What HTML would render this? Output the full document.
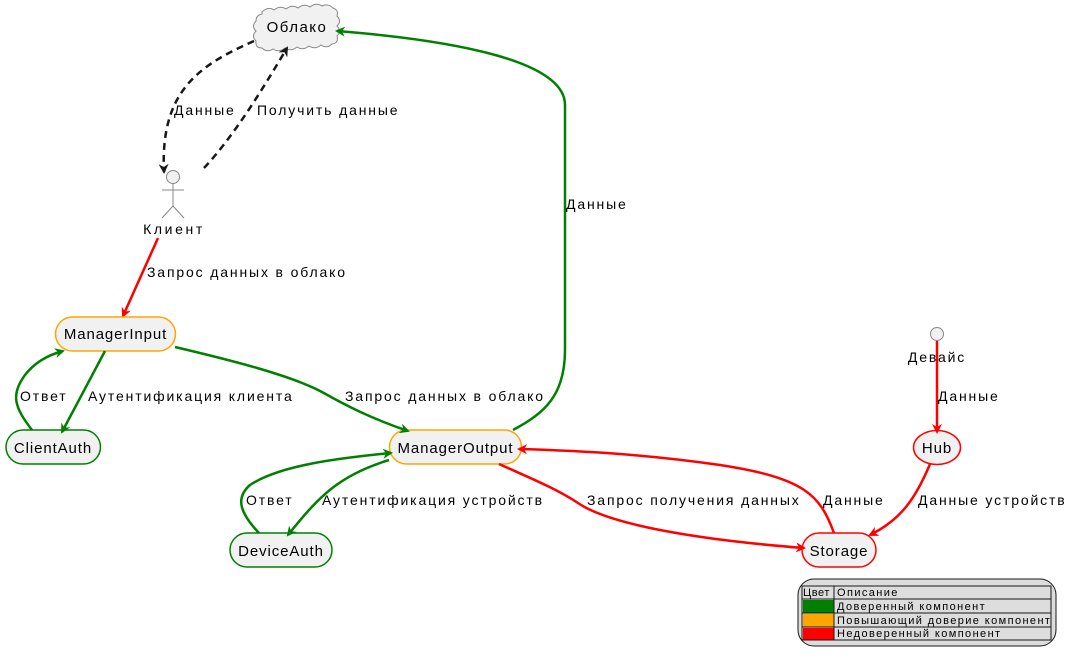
<!DOCTYPE html>
<html><head><meta charset="utf-8"><style>
body{margin:0;background:#fff;width:1074px;height:660px;overflow:hidden}
svg{display:block}
text{font-family:"Liberation Sans",sans-serif;font-size:14px;fill:#000}
.l{letter-spacing:1.85px}
.n{font-size:15px;letter-spacing:0.9px}
.s{font-size:11px;letter-spacing:1.4px}
</style></head><body>
<svg width="1074" height="660" viewBox="0 0 1074 660">
<defs>
<marker id="ag" markerWidth="10" markerHeight="10" refX="8" refY="5" orient="auto" markerUnits="userSpaceOnUse"><path d="M0,0 L10,5 L0,10 L3,5z" fill="#008000"/></marker>
<marker id="ar" markerWidth="10" markerHeight="10" refX="8" refY="5" orient="auto" markerUnits="userSpaceOnUse"><path d="M0,0 L10,5 L0,10 L3,5z" fill="#f00"/></marker>
<marker id="ak" markerWidth="10" markerHeight="10" refX="8" refY="5" orient="auto" markerUnits="userSpaceOnUse"><path d="M0,0 L10,5 L0,10 L3,5z" fill="#181818"/></marker>
</defs>
<path d="M262,12 q6,-6 12,-2 q6,-5 12,-1 q6,-5 12,-1 q6,-5 12,-1 q6,-5 12,-1 q6,-3 11,2 q6,2 4,8 q5,5 0,10 q5,5 0,10 q2,7 -5,8 q-5,5 -11,1 q-6,5 -12,1 q-6,5 -12,1 q-6,5 -12,1 q-6,5 -12,1 q-6,4 -11,-1 q-7,0 -6,-7 q-5,-5 0,-10 q-5,-5 0,-10 q0,-6 6,-7z" fill="#f1f1f1" stroke="#888" stroke-width="1"/>
<text x="297" y="32" text-anchor="middle" class="l n" style="letter-spacing:1.5px">Облако</text>
<path d="M254,41 C200,65 160,90 164,172" fill="none" stroke="#181818" stroke-width="2.5" stroke-dasharray="7,5" marker-end="url(#ak)"/>
<path d="M204,168 C235,135 265,85 287,48" fill="none" stroke="#181818" stroke-width="2.5" stroke-dasharray="7,5" marker-end="url(#ak)"/>
<text x="174" y="115" class="l">Данные</text>
<text x="257" y="115" class="l">Получить данные</text>
<circle cx="173" cy="177" r="6.5" fill="#f1f1f1" stroke="#888"/>
<path d="M173,183.5 V206 M162,190 H184 M162,218 L173,206 L184,218" stroke="#888" fill="none"/>
<text x="174" y="234" text-anchor="middle" class="l" style="letter-spacing:2.6px">Клиент</text>
<path d="M158,238 L123,316" stroke="#f00" stroke-width="2.5" fill="none" marker-end="url(#ar)"/>
<text x="147" y="277" class="l">Запрос данных в облако</text>
<rect x="55.5" y="317" width="120" height="34" rx="17" fill="#f1f1f1" stroke="#ffa500" stroke-width="1.5"/>
<text x="115.5" y="339" text-anchor="middle" class="n">ManagerInput</text>
<rect x="6" y="430" width="94.5" height="34" rx="17" fill="#f1f1f1" stroke="#008000" stroke-width="1.5"/>
<text x="53" y="453" text-anchor="middle" class="n">ClientAuth</text>
<rect x="389.5" y="430" width="132" height="34" rx="17" fill="#f1f1f1" stroke="#ffa500" stroke-width="1.5"/>
<text x="455.5" y="453" text-anchor="middle" class="n">ManagerOutput</text>
<rect x="230" y="533" width="102" height="34" rx="17" fill="#f1f1f1" stroke="#008000" stroke-width="1.5"/>
<text x="281" y="556" text-anchor="middle" class="n">DeviceAuth</text>
<rect x="802" y="533" width="74" height="34" rx="17" fill="#f1f1f1" stroke="#f00" stroke-width="1.5"/>
<text x="839" y="556" text-anchor="middle" class="n">Storage</text>
<ellipse cx="937" cy="447.5" rx="23.5" ry="17" fill="#f1f1f1" stroke="#f00" stroke-width="1.5"/>
<text x="937" y="453" text-anchor="middle" class="n">Hub</text>
<circle cx="937" cy="334" r="6.5" fill="#f1f1f1" stroke="#888"/>
<text x="937" y="362" text-anchor="middle" class="l">Девайс</text>
<path d="M105,351 L62,432" stroke="#008000" stroke-width="2.5" fill="none" marker-end="url(#ag)"/>
<path d="M32,430 C15,408 10,395 25,375 C35,362 48,355 63,351" stroke="#008000" stroke-width="2.5" fill="none" marker-end="url(#ag)"/>
<text x="20" y="401" class="l">Ответ</text>
<text x="88" y="401" class="l">Аутентификация клиента</text>
<path d="M175,347 C230,360 290,375 322,392 C345,405 370,418 408,431" stroke="#008000" stroke-width="2.5" fill="none" marker-end="url(#ag)"/>
<text x="345" y="401" class="l">Запрос данных в облако</text>
<path d="M513,430 C545,413 565,395 565,350 L565,105 C565,60 450,40 337,31" stroke="#008000" stroke-width="2.5" fill="none" marker-end="url(#ag)"/>
<text x="566" y="209" class="l">Данные</text>
<path d="M389,460 C340,475 320,495 288,535" stroke="#008000" stroke-width="2.5" fill="none" marker-end="url(#ag)"/>
<path d="M259,533 C240,513 235,498 250,485 C280,465 340,458 391,453" stroke="#008000" stroke-width="2.5" fill="none" marker-end="url(#ag)"/>
<text x="246" y="505" class="l">Ответ</text>
<text x="322" y="505" class="l">Аутентификация устройств</text>
<path d="M499,464 C530,478 555,488 578,503 C610,525 700,540 804,548" stroke="#f00" stroke-width="2.5" fill="none" marker-end="url(#ar)"/>
<text x="587" y="505" class="l">Запрос получения данных</text>
<path d="M834,533 C820,495 805,478 720,465 C650,455 590,451 519,449" stroke="#f00" stroke-width="2.5" fill="none" marker-end="url(#ar)"/>
<text x="823" y="505" class="l">Данные</text>
<path d="M937,341 L937,432" stroke="#f00" stroke-width="2.5" fill="none" marker-end="url(#ar)"/>
<text x="938" y="401" class="l">Данные</text>
<path d="M930,464 C915,500 900,520 870,535" stroke="#f00" stroke-width="2.5" fill="none" marker-end="url(#ar)"/>
<text x="918" y="505" class="l">Данные устройств</text>
<rect x="798" y="579" width="258" height="67" rx="16" fill="#dddddd" stroke="#181818"/>
<g stroke="#181818" stroke-width="1">
<path d="M802,586 H1051 V640 H802 Z M802,599 H1051 M802,613 H1051 M802,627 H1051 M834,586 V640" fill="none"/>
</g>
<rect x="803" y="600" width="30.5" height="12.5" fill="#008000"/>
<rect x="803" y="614" width="30.5" height="12.5" fill="#ffa500"/>
<rect x="803" y="628" width="30.5" height="11.5" fill="#f00"/>
<text x="803" y="596" class="s" style="letter-spacing:0.6px">Цвет</text>
<text x="837" y="596" class="s">Описание</text>
<text x="837" y="610" class="s">Доверенный компонент</text>
<text x="837" y="624" class="s">Повышающий доверие компонент</text>
<text x="837" y="637" class="s">Недоверенный компонент</text>
</svg>
</body></html>
